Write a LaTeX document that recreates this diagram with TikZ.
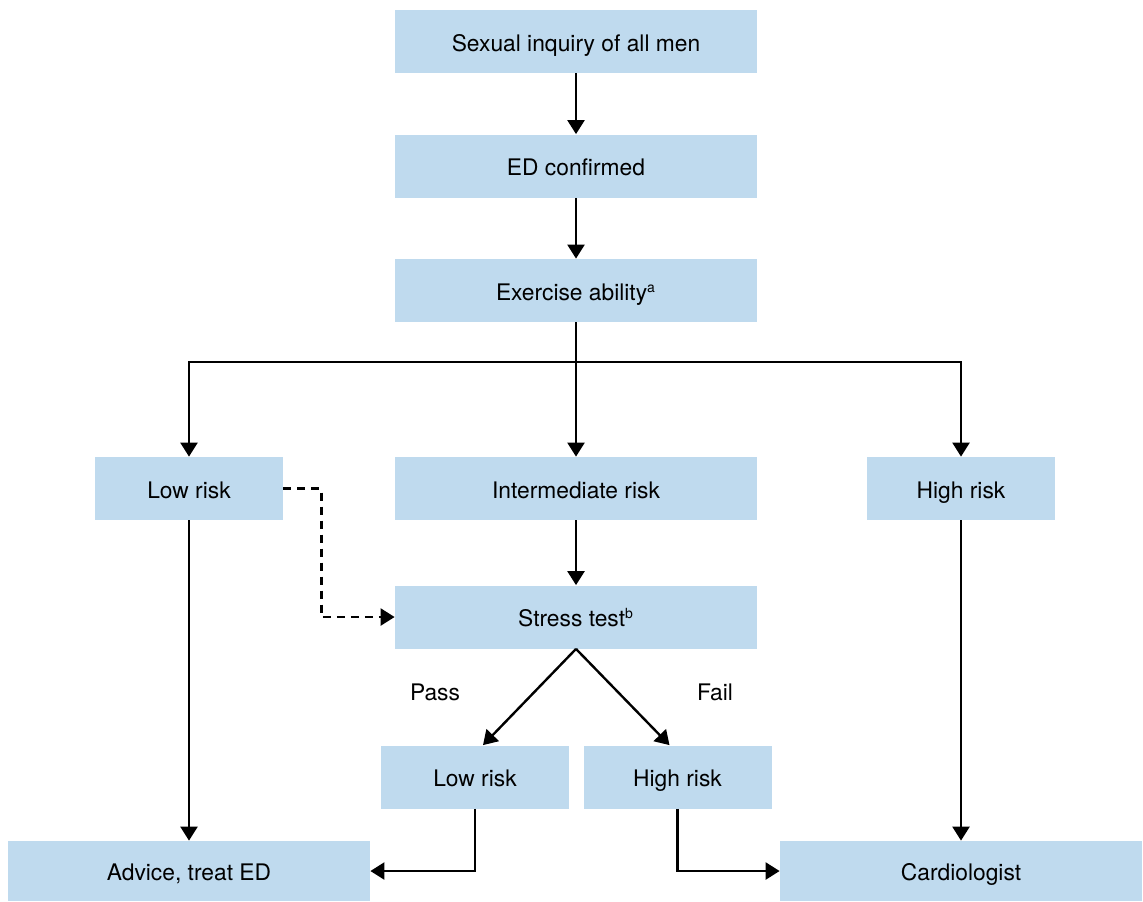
\documentclass[tikz,border=0pt]{standalone}
\usepackage{fontspec}
\setmainfont{TeX Gyre Heros}
\usetikzlibrary{arrows.meta}
\definecolor{boxblue}{RGB}{191,218,238}
\begin{document}
\begin{tikzpicture}[x=0.5pt,y=-0.5pt,
  box/.style={fill=boxblue,inner sep=0pt,text height=9.7pt,text depth=0pt,font=\fontsize{11.4}{13}\selectfont},
  wide/.style={box,minimum width=181pt,minimum height=31.5pt},
  narrow/.style={box,minimum width=94pt,minimum height=31.5pt},
  arr/.style={line width=1.2pt,-{Triangle[width=8.5pt,length=7pt]}},
  lbl/.style={font=\fontsize{11.4}{13}\selectfont}]
\useasboundingbox (0,0) rectangle (1143,901);
\node[wide] (n1) at (576,41.5) {Sexual inquiry of all men};
\node[wide] (n2) at (576,166) {ED confirmed};
\node[wide] (n3) at (576,290.5) {Exercise ability\textsuperscript{\scriptsize a}};
\node[narrow] (low) at (189,488.5) {Low risk};
\node[wide] (mid) at (576,488.5) {Intermediate risk};
\node[narrow] (high) at (961,488.5) {High risk};
\node[wide] (stress) at (576,617) {Stress test\textsuperscript{\scriptsize b}};
\node[narrow] (low2) at (475,777) {Low risk};
\node[narrow] (high2) at (677.5,777) {High risk};
\node[wide,minimum height=30pt] (advice) at (189,871) {Advice, treat ED};
\node[wide,minimum height=30pt] (cardio) at (961,871) {Cardiologist};
\node[lbl] (pass) at (435,692) {Pass};
\node[lbl] (fail) at (715,692) {Fail};
\coordinate (hb) at (576,362);
\draw[arr] (n1) -- (n2);
\draw[arr] (n2) -- (n3);
\draw[arr] (n3) -- (mid);
\draw[arr] (hb) -| (low.north);
\draw[arr] (hb) -| (high.north);
\draw[arr,dash pattern=on 4pt off 3pt] (low.east) -- ++(38,0) |- (stress.west);
\draw[arr] (mid) -- (stress);
\draw[arr] (stress.south) -- ([xshift=4pt]low2.north);
\draw[arr] (stress.south) -- ([xshift=-4pt]high2.north);
\draw[arr] (low) -- (advice);
\draw[arr] (high) -- (cardio);
\draw[arr] (low2.south) |- (advice.east);
\draw[arr] (high2.south) |- (cardio.west);
\end{tikzpicture}
\end{document}
